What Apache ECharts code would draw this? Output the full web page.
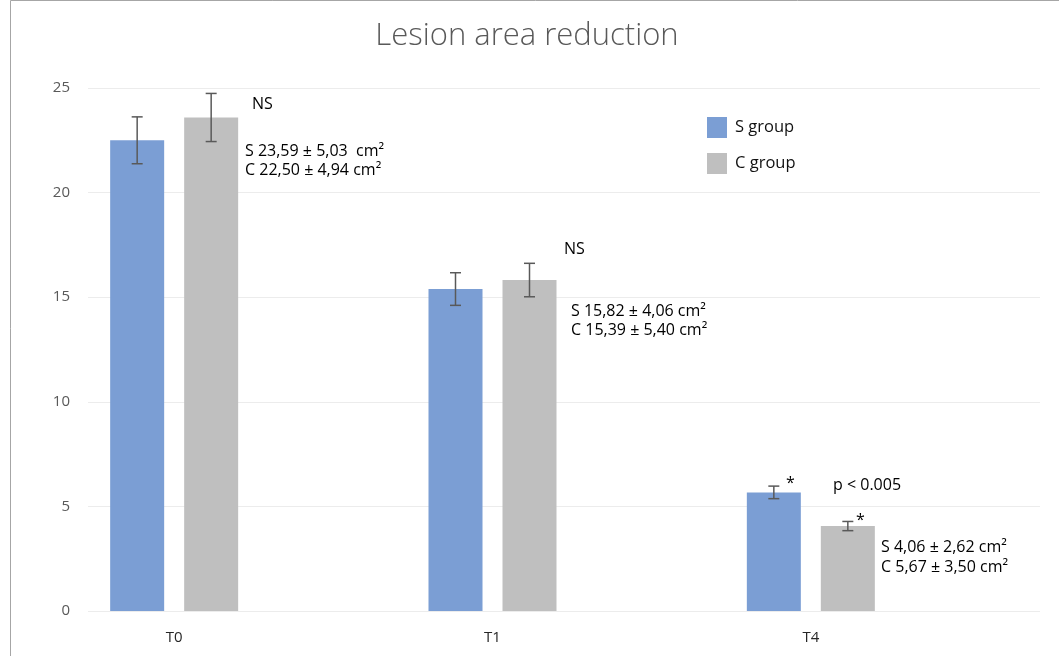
<!DOCTYPE html>
<html>
<head>
<meta charset="utf-8">
<script src="https://cdn.jsdelivr.net/npm/echarts@6/dist/echarts.min.js"></script>
<style>html,body{margin:0;padding:0;background:#fff}#c{width:1059px;height:656px}</style>
</head>
<body>
<div id="c"></div>
<script>
// ---- data ----
const categories = ['T0', 'T1', 'T4'];
const seriesNames = ['S group', 'C group'];
const sValues = [22.50, 15.39, 5.67];
const cValues = [23.59, 15.82, 4.06];
const sErrors = [1.12, 0.78, 0.30];
const cErrors = [1.15, 0.80, 0.22];
const yTicks = [0, 5, 10, 15, 20, 25];
const annotations = [
  { text: 'NS', x: 252, y: 104 },
  { text: 'S 23,59 ± 5,03  cm²', x: 245, y: 151 },
  { text: 'C 22,50 ± 4,94 cm²', x: 245, y: 170 },
  { text: 'NS', x: 564, y: 249 },
  { text: 'S 15,82 ± 4,06 cm²', x: 571, y: 311 },
  { text: 'C 15,39 ± 5,40 cm²', x: 571, y: 330 },
  { text: '*', x: 786, y: 483 },
  { text: '*', x: 856, y: 520 },
  { text: 'p < 0.005', x: 833, y: 485 },
  { text: 'S 4,06 ± 2,62 cm²', x: 881, y: 547 },
  { text: 'C 5,67 ± 3,50 cm²', x: 881, y: 567 }
];

const FONT = '"Open Sans", "Noto Sans", sans-serif';
const BLUE = '#7b9ed4';
const GRAY = '#bfbfbf';
const BAR_W = 54;
const BAR_GAP = 20;

function errorSeries(values, errors, sign) {
  return {
    type: 'custom',
    xAxisIndex: 0, yAxisIndex: 0,
    z: 10,
    data: categories.map((c, i) => [i, values[i], errors[i]]),
    renderItem: function (params, api) {
      const ci = api.value(0);
      const v = api.value(1), e = api.value(2);
      const off = sign * (BAR_W / 2 + BAR_GAP / 2);
      const top = api.coord([ci, v + e]);
      const bot = api.coord([ci, v - e]);
      const x = top[0] + off;
      const cap = 5.5;
      const st = { stroke: '#595959', lineWidth: 1.5 };
      return { type: 'group', children: [
        { type: 'line', shape: { x1: x, y1: top[1], x2: x, y2: bot[1] }, style: st },
        { type: 'line', shape: { x1: x - cap, y1: top[1], x2: x + cap, y2: top[1] }, style: st },
        { type: 'line', shape: { x1: x - cap, y1: bot[1], x2: x + cap, y2: bot[1] }, style: st }
      ]};
    }
  };
}

const chart = echarts.init(document.getElementById('c'), null, { renderer: 'canvas' });
chart.setOption({
  animation: false,
  backgroundColor: '#fff',
  title: {
    text: 'Lesion area reduction',
    left: 522, top: 16, textAlign: 'center',
    textStyle: { fontFamily: FONT, fontWeight: 300, fontSize: 31, color: '#595959' }
  },
  legend: {
    orient: 'vertical', left: 702, top: 112,
    itemWidth: 20, itemHeight: 21, itemGap: 15,
    data: seriesNames,
    icon: 'rect',
    textStyle: { fontFamily: FONT, fontSize: 16.5, color: '#111', padding: [0, 0, 0, 3] }
  },
  grid: [
    { left: 15, right: 89, top: 88, bottom: 45 },
    { left: 88, right: 19, top: 88, bottom: 45 }
  ],
  xAxis: [
    { type: 'category', gridIndex: 0, data: categories,
      axisLine: { show: false }, axisTick: { show: false },
      axisLabel: { fontFamily: FONT, fontSize: 15, color: '#262626', margin: 19 } },
    { type: 'value', gridIndex: 1, show: false }
  ],
  yAxis: [
    { type: 'value', gridIndex: 0, min: 0, max: 25, interval: 5, show: false, splitLine: { show: false } },
    { type: 'value', gridIndex: 1, min: yTicks[0], max: yTicks[yTicks.length - 1], interval: 5,
      axisLine: { show: false }, axisTick: { show: false },
      axisLabel: { fontFamily: FONT, fontSize: 15, color: '#595959', margin: 18 },
      splitLine: { lineStyle: { color: '#ececec', width: 1 } } }
  ],
  series: [
    { name: seriesNames[0], type: 'bar', xAxisIndex: 0, yAxisIndex: 0, data: sValues,
      barWidth: BAR_W, barGap: (BAR_GAP / BAR_W * 100) + '%', itemStyle: { color: BLUE } },
    { name: seriesNames[1], type: 'bar', xAxisIndex: 0, yAxisIndex: 0, data: cValues,
      barWidth: BAR_W, itemStyle: { color: GRAY } },
    errorSeries(sValues, sErrors, -1),
    errorSeries(cValues, cErrors, 1)
  ],
  graphic: [
    { type: 'rect', shape: { x: 10.5, y: 0.5, width: 1100, height: 700 },
      style: { fill: 'none', stroke: '#a6a6a6', lineWidth: 1 }, silent: true }
  ].concat(annotations.map(a => ({
    type: 'text', x: a.x, y: a.y,
    style: { text: a.text, fontFamily: FONT, fontSize: 16, fill: '#000', verticalAlign: 'middle', align: 'left' }
  })))
});
</script>
</body>
</html>
